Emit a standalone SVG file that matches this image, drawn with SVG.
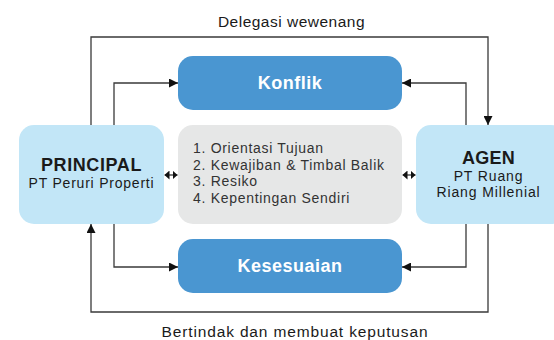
<svg xmlns="http://www.w3.org/2000/svg" width="554" height="340" viewBox="0 0 554 340">
<defs>
<style>
.lbl{font-family:"Liberation Sans",Arial,sans-serif;fill:#1a1a1a;}
.blue{fill:#4a96d1;}
.lb{fill:#c2e6f7;}
.gray{fill:#e6e7e7;}
.conn{fill:none;stroke:#3a3a3a;stroke-width:1.3;}
.white{font-family:"Liberation Sans",Arial,sans-serif;fill:#ffffff;font-weight:700;font-size:18px;letter-spacing:0.5px;}
.item{font-size:14px;letter-spacing:0.7px;fill:#333;}
</style>
<marker id="ah" viewBox="0 0 10 10" refX="10" refY="5" markerWidth="9" markerHeight="9" markerUnits="userSpaceOnUse" orient="auto">
<path d="M0,0 L10,5 L0,10 Z" fill="#111"/>
</marker>
<marker id="ahs" viewBox="0 0 10 10" refX="10" refY="5" markerWidth="5" markerHeight="9" markerUnits="userSpaceOnUse" orient="auto-start-reverse" preserveAspectRatio="none">
<path d="M0,0 L10,5 L0,10 Z" fill="#111"/>
</marker>
</defs>
<rect width="554" height="340" fill="#ffffff"/>
<g id="connectors">
<path class="conn" d="M91,125 V37 H488 V125" marker-end="url(#ah)"/>
<path class="conn" d="M114,125 V83 H178" marker-end="url(#ah)"/>
<path class="conn" d="M466,125 V83 H402" marker-end="url(#ah)"/>
<path class="conn" d="M114,224 V267 H178" marker-end="url(#ah)"/>
<path class="conn" d="M466,224 V267 H402" marker-end="url(#ah)"/>
<path class="conn" d="M488,224 V312 H91 V224" marker-end="url(#ah)"/>
<path class="conn" d="M164.5,175 H177.5" stroke-width="1.6" marker-start="url(#ahs)" marker-end="url(#ahs)"/>
<path class="conn" d="M402.5,175 H415.5" stroke-width="1.6" marker-start="url(#ahs)" marker-end="url(#ahs)"/>
<text class="lbl" x="291.5" y="27" font-size="15.5" letter-spacing="0.5" text-anchor="middle">Delegasi wewenang</text>
<text class="lbl" x="295" y="337" font-size="15.5" letter-spacing="0.85" text-anchor="middle">Bertindak dan membuat keputusan</text>
</g>
<g id="konflik">
<rect class="blue" x="178" y="56" width="224" height="54" rx="15"/>
<text class="white" x="290" y="89" text-anchor="middle">Konflik</text>
</g>
<g id="principal">
<rect class="lb" x="19" y="125" width="145" height="99" rx="15"/>
<text class="lbl" x="91.5" y="171" font-size="18" font-weight="700" letter-spacing="0.6" text-anchor="middle">PRINCIPAL</text>
<text class="lbl" x="91.5" y="188" font-size="14" letter-spacing="0.78" text-anchor="middle" fill="#333">PT Peruri Properti</text>
</g>
<g id="faktor">
<rect class="gray" x="178" y="125" width="224" height="99" rx="15"/>
<text class="lbl item" x="193" y="153">1. Orientasi Tujuan</text>
<text class="lbl item" x="193" y="170">2. Kewajiban &amp; Timbal Balik</text>
<text class="lbl item" x="193" y="186">3. Resiko</text>
<text class="lbl item" x="193" y="203">4. Kepentingan Sendiri</text>
</g>
<g id="agen">
<rect class="lb" x="416" y="125" width="150" height="99" rx="15"/>
<text class="lbl" x="488.5" y="164" font-size="18" font-weight="700" letter-spacing="0.3" text-anchor="middle">AGEN</text>
<text class="lbl" x="488.5" y="181" font-size="14" letter-spacing="0.87" text-anchor="middle" fill="#333">PT Ruang</text>
<text class="lbl" x="488.5" y="197" font-size="14" letter-spacing="0.87" text-anchor="middle" fill="#333">Riang Millenial</text>
</g>
<g id="kesesuaian">
<rect class="blue" x="178" y="239" width="224" height="54" rx="15"/>
<text class="white" x="290" y="271.5" text-anchor="middle">Kesesuaian</text>
</g>
</svg>
